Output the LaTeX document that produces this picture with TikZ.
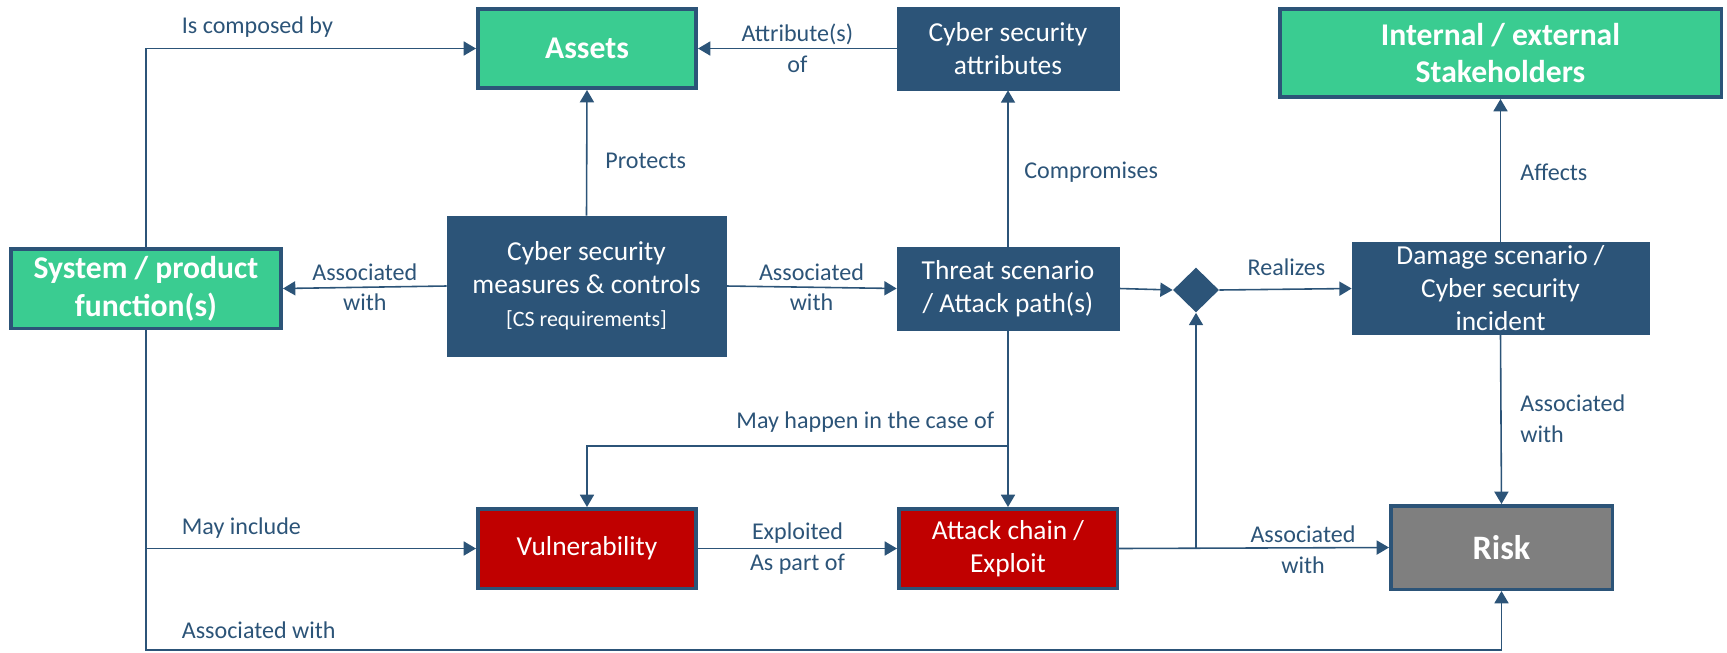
\documentclass[tikz,border=0pt]{standalone}
\usepackage{fontspec}
\setmainfont{Carlito}
\usetikzlibrary{shapes.geometric,arrows.meta}
\definecolor{csblue}{RGB}{44,84,120}
\definecolor{csgreen}{RGB}{58,204,145}
\definecolor{csred}{RGB}{192,0,0}
\definecolor{csgrey}{RGB}{127,127,127}
\tikzset{%
	box/.style      = {rectangle, inner sep=2pt, align=center, text=white,
		font=\fontsize{15.6}{18.8}\selectfont},
	darkbox/.style  = {box, fill=csblue, draw=csblue},
	framed/.style   = {box, draw=csblue, line width=2pt},
	greenbox/.style = {framed, fill=csgreen, font=\bfseries\fontsize{18}{21.5}\selectfont},
	redbox/.style   = {framed, fill=csred},
	greybox/.style  = {framed, fill=csgrey, font=\bfseries\fontsize{19.5}{23}\selectfont},
	junction/.style = {diamond, fill=csblue, inner sep=0pt, minimum width=0.92cm,
		minimum height=0.9cm}, % Join
	lbl/.style      = {text=csblue, inner sep=0pt, align=center,
		font=\fontsize{13.7}{17.6}\selectfont},
	conn/.style     = {draw=csblue, line width=0.9pt, ->}
}

\begin{document}
\begin{tikzpicture}[>={Triangle[length=7pt,width=8pt]}]
	\useasboundingbox (0,0) rectangle (34.54,-13.04);

	\node[greenbox, minimum width=4.37cm, minimum height=1.59cm] (assets) at (11.74,-0.97) {Assets};
	\node[darkbox, minimum width=4.44cm, minimum height=1.66cm] (attrib) at (20.16,-0.97) {Cyber security\\attributes};
	\node[greenbox, minimum width=8.83cm, minimum height=1.77cm] (stake) at (30.01,-1.06) {Internal / external\\Stakeholders};
	\node[greenbox, minimum width=5.41cm, minimum height=1.59cm] (sys) at (2.92,-5.77) {System / product\\function(s)};
	\node[darkbox, minimum width=5.58cm, minimum height=2.8cm] (meas) at (11.73,-5.72) {Cyber security\\measures \& controls\\{\fontsize{12.5}{16}\selectfont [CS requirements]}};
	\node[darkbox, minimum width=4.44cm, minimum height=1.66cm] (threat) at (20.16,-5.77) {Threat scenario\\/ Attack path(s)};
	\node[junction] (junc) at (23.92,-5.80) {};
	\node[darkbox, minimum width=5.94cm, minimum height=1.66cm] (damage) at (30.01,-5.77) {Damage scenario /\\Cyber security\\incident};
	\node[redbox, minimum width=4.37cm, minimum height=1.59cm] (vuln) at (11.74,-10.97) {Vulnerability};
	\node[redbox, minimum width=4.37cm, minimum height=1.59cm] (attack) at (20.16,-10.97) {Attack chain /\\Exploit};
	\node[greybox, minimum width=4.43cm, minimum height=1.67cm] (risk) at (30.03,-10.95) {Risk};

	\coordinate (fork) at (0,-8.92);
	\coordinate (base) at (0,-13.0);

	\draw[conn] (sys.north) |- (assets.west);
	\node[lbl, anchor=west] at (3.63,-0.55) {Is composed by};
	\draw[conn] (meas.north) -- (assets.south);
	\node[lbl, anchor=west] at (12.1,-3.22) {Protects};
	\draw[conn] (attrib.west) -- (assets.east) node[lbl, midway] {Attribute(s)\\of};
	\draw[conn] (meas.west) -- (sys.east) node[lbl, midway] {Associated\\with};
	\draw[conn] (meas.east) -- (threat.west) node[lbl, midway] {Associated\\with};
	\draw[conn] (threat.north) -- (attrib.south);
	\node[lbl, anchor=west] at (20.48,-3.44) {Compromises};
	\draw[conn] (threat.east) -- (junc.west);
	\draw[conn] (junc.east) -- (damage.west);
	\node[lbl] at (25.73,-5.35) {Realizes};
	\draw[conn] (damage.north) -- (stake.south);
	\node[lbl, anchor=west] at (30.4,-3.44) {Affects};
	\draw[conn] (damage.south) -- (risk.north);
	\node[lbl, anchor=west, align=left] at (30.4,-8.37) {Associated\\with};
	\draw[conn] (threat.south) -- (attack.north);
	\draw[conn] (threat.south |- fork) -| (vuln.north);
	\node[lbl, anchor=east] at (19.89,-8.44) {May happen in the case of};
	\draw[conn] (sys.south) -- (sys.south |- base) -| (risk.south);
	\node[lbl, anchor=west] at (3.63,-12.6) {Associated with};
	\draw[conn] (sys.south |- vuln.west) -- (vuln.west);
	\node[lbl, anchor=west] at (3.63,-10.57) {May include};
	\draw[conn] (vuln.east) -- (attack.west) node[lbl, midway] {Exploited\\As part of};
	\draw[conn] (attack.east) -- (risk.west);
	\node[lbl] at (26.06,-10.99) {Associated\\with};
	\draw[conn] (attack.east -| junc.south) -- (junc.south);
\end{tikzpicture}
\end{document}
